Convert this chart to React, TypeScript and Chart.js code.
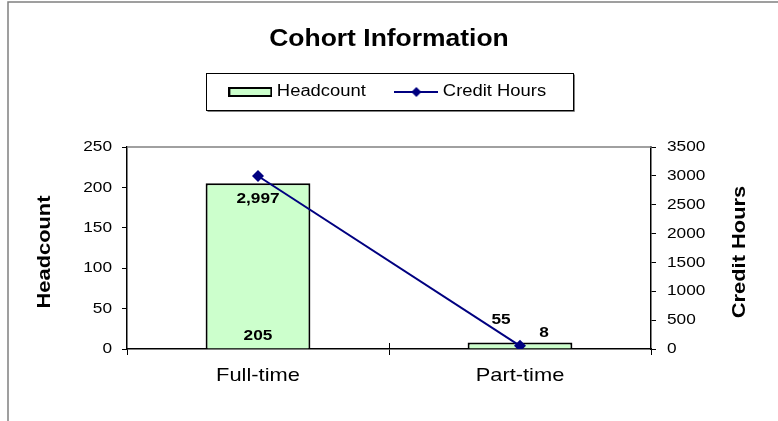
import React, { useEffect, useRef } from 'react';
import { Chart, registerables } from 'chart.js';

Chart.register(...registerables);

const categories = ['Full-time', 'Part-time'];
const headcount = [205, 8];
const creditHours = [2997, 55];
const headcountTicks = [0, 50, 100, 150, 200, 250];
const creditTicks = [0, 500, 1000, 1500, 2000, 2500, 3000, 3500];
const seriesNames = ['Headcount', 'Credit Hours'];
const chartTitle = 'Cohort Information';

const FONT = '"Liberation Sans", Arial, Helvetica, sans-serif';
const BAR_FILL = '#CCFFCC';
const LINE_COLOR = '#000080';
const TEXT_SX = 1.15; // horizontal text widening (reference text is wide)

function makeBarSwatch() {
  const c = document.createElement('canvas');
  c.width = 44;
  c.height = 10;
  const g = c.getContext('2d')!;
  g.fillStyle = BAR_FILL;
  g.fillRect(1, 1, 42, 8);
  g.strokeStyle = '#000';
  g.lineWidth = 2;
  g.strokeRect(1, 1, 42, 8);
  return c;
}

function makeLineSwatch() {
  const c = document.createElement('canvas');
  c.width = 44;
  c.height = 12;
  const g = c.getContext('2d')!;
  g.strokeStyle = LINE_COLOR;
  g.lineWidth = 2;
  g.beginPath();
  g.moveTo(0, 6);
  g.lineTo(44, 6);
  g.stroke();
  g.fillStyle = LINE_COLOR;
  g.beginPath();
  g.moveTo(22, 1);
  g.lineTo(27, 6);
  g.lineTo(22, 11);
  g.lineTo(17, 6);
  g.closePath();
  g.fill();
  return c;
}

const fmt = (v: number) => v.toLocaleString('en-US');

function widenText(ctx: any) {
  if (ctx.__widened) return;
  const origFill = ctx.fillText.bind(ctx);
  const origMeasure = ctx.measureText.bind(ctx);
  ctx.fillText = (text: string, x: number, y: number, maxWidth?: number) => {
    ctx.save();
    ctx.translate(x, y);
    ctx.scale(TEXT_SX, 1);
    if (maxWidth !== undefined && maxWidth !== null && isFinite(maxWidth)) {
      origFill(text, 0, 0, maxWidth / TEXT_SX);
    } else {
      origFill(text, 0, 0);
    }
    ctx.restore();
  };
  ctx.measureText = (text: string) => {
    const m = origMeasure(text);
    return {
      width: m.width * TEXT_SX,
      actualBoundingBoxAscent: m.actualBoundingBoxAscent,
      actualBoundingBoxDescent: m.actualBoundingBoxDescent,
      actualBoundingBoxLeft: m.actualBoundingBoxLeft * TEXT_SX,
      actualBoundingBoxRight: m.actualBoundingBoxRight * TEXT_SX,
      fontBoundingBoxAscent: m.fontBoundingBoxAscent,
      fontBoundingBoxDescent: m.fontBoundingBoxDescent,
    };
  };
  ctx.__widened = true;
}

export default function App() {
  const ref = useRef<HTMLCanvasElement>(null);

  useEffect(() => {
    const canvas = ref.current!;
    widenText(canvas.getContext('2d'));
    const barImg = makeBarSwatch();
    const lineImg = makeLineSwatch();

    const decorPlugin = {
      id: 'decor',
      afterInit(chart: any) {
        const lg = chart.legend;
        if (lg && !lg.__patched) {
          const orig = lg.fit.bind(lg);
          lg.fit = function () {
            orig();
            this.height += 37;
          };
          lg.__patched = true;
        }
      },
      afterDraw(chart: any) {
        const ctx = chart.ctx;
        const ca = chart.chartArea;
        ctx.save();
        // outer frame
        ctx.strokeStyle = '#808080';
        ctx.lineWidth = 1.5;
        ctx.beginPath();
        ctx.moveTo(8, 421);
        ctx.lineTo(8, 2);
        ctx.lineTo(778, 2);
        ctx.stroke();
        // plot top border
        ctx.strokeStyle = '#808080';
        ctx.lineWidth = 1.5;
        ctx.beginPath();
        ctx.moveTo(ca.left, ca.top);
        ctx.lineTo(ca.right, ca.top);
        ctx.stroke();
        // crossing tick mark between categories
        const xs = chart.scales.x;
        const mid = (xs.getPixelForValue(0) + xs.getPixelForValue(1)) / 2;
        ctx.strokeStyle = '#000';
        ctx.lineWidth = 1;
        ctx.beginPath();
        ctx.moveTo(Math.round(mid) + 0.5, ca.bottom - 6);
        ctx.lineTo(Math.round(mid) + 0.5, ca.bottom);
        ctx.stroke();
        // legend box
        const lg = chart.legend;
        if (lg && lg.legendHitBoxes && lg.legendHitBoxes.length) {
          const hb = lg.legendHitBoxes;
          const first = hb[0];
          const last = hb[hb.length - 1];
          const cy = first.top + first.height / 2;
          const x1 = Math.round(first.left - 26) + 0.5;
          const x2 = Math.round(last.left + last.width + 27) + 0.5;
          const y1 = Math.round(cy - 19) + 0.5;
          const y2 = Math.round(cy + 18) + 0.5;
          ctx.strokeStyle = '#000';
          ctx.lineWidth = 1;
          ctx.strokeRect(x1, y1, x2 - x1, y2 - y1);
          ctx.strokeStyle = '#808080';
          ctx.beginPath();
          ctx.moveTo(x1 + 1, y2 + 1);
          ctx.lineTo(x2 + 1, y2 + 1);
          ctx.lineTo(x2 + 1, y1 + 1);
          ctx.stroke();
        }
        // axis titles (both read bottom-to-top)
        const yL = chart.scales.y;
        const yR = chart.scales.y1;
        const cy = (ca.top + ca.bottom) / 2 + 4;
        ctx.fillStyle = '#000';
        ctx.font = `bold 19px ${FONT}`;
        ctx.textAlign = 'center';
        ctx.textBaseline = 'middle';
        ctx.save();
        ctx.translate(yL.left + 45, cy);
        ctx.rotate(-Math.PI / 2);
        ctx.fillText(seriesNames[0], 0, 0);
        ctx.restore();
        ctx.save();
        ctx.translate(yR.right - 38, cy);
        ctx.rotate(-Math.PI / 2);
        ctx.fillText(seriesNames[1], 0, 0);
        ctx.restore();
        ctx.restore();
      },
      afterDatasetsDraw(chart: any) {
        const ctx = chart.ctx;
        ctx.save();
        ctx.fillStyle = '#000';
        ctx.font = `bold 15px ${FONT}`;
        ctx.textAlign = 'center';
        ctx.textBaseline = 'middle';
        const bars = chart.getDatasetMeta(0).data;
        const pts = chart.getDatasetMeta(1).data;
        const b0 = bars[0];
        ctx.fillText(fmt(headcount[0]), b0.x, b0.base - 13);
        const b1 = bars[1];
        ctx.fillText(fmt(headcount[1]), b1.x + 24, b1.y - 10);
        const p0 = pts[0];
        ctx.fillText(fmt(creditHours[0]), p0.x, p0.y + 23);
        const p1 = pts[1];
        ctx.fillText(fmt(creditHours[1]), p1.x - 19, p1.y - 26);
        ctx.restore();
      },
    };

    const chart = new Chart(canvas, {
      type: 'bar',
      data: {
        labels: categories,
        datasets: [
          {
            type: 'bar',
            label: seriesNames[0],
            data: headcount,
            yAxisID: 'y',
            backgroundColor: BAR_FILL,
            borderColor: '#000',
            borderWidth: 2,
            barPercentage: 0.4,
            categoryPercentage: 1,
            order: 1,
          },
          {
            type: 'line',
            label: seriesNames[1],
            data: creditHours,
            yAxisID: 'y1',
            borderColor: LINE_COLOR,
            backgroundColor: LINE_COLOR,
            borderWidth: 2,
            pointStyle: 'rectRot',
            pointRadius: 6,
            pointBackgroundColor: LINE_COLOR,
            pointBorderColor: LINE_COLOR,
            pointBorderWidth: 0,
            tension: 0,
            order: 0,
          },
        ],
      } as any,
      options: {
        responsive: false,
        animation: false,
        devicePixelRatio: 1,
        events: [],
        layout: { padding: 0 },
        font: { family: FONT },
        plugins: {
          tooltip: { enabled: false },
          title: {
            display: true,
            text: chartTitle,
            color: '#000',
            font: { family: FONT, size: 23, weight: 'bold', lineHeight: 1 },
            padding: { top: 28.5, bottom: 0.5 },
          },
          legend: {
            display: true,
            position: 'top',
            labels: {
              usePointStyle: true,
              pointStyleWidth: 37,
              color: '#000',
              padding: 32,
              font: { family: FONT, size: 16 },
              generateLabels: () => [
                {
                  text: seriesNames[0],
                  pointStyle: barImg,
                  fillStyle: BAR_FILL,
                  strokeStyle: '#000',
                  lineWidth: 0,
                  hidden: false,
                  datasetIndex: 0,
                  fontColor: '#000',
                },
                {
                  text: seriesNames[1],
                  pointStyle: lineImg,
                  fillStyle: LINE_COLOR,
                  strokeStyle: LINE_COLOR,
                  lineWidth: 0,
                  hidden: false,
                  datasetIndex: 1,
                  fontColor: '#000',
                },
              ],
            },
          },
        },
        scales: {
          x: {
            type: 'category',
            offset: true,
            grid: {
              display: true,
              offset: true,
              drawOnChartArea: false,
              drawTicks: true,
              tickLength: 6,
              color: '#000',
            },
            border: { display: true, color: '#000', width: 1.5 },
            ticks: {
              color: '#000',
              padding: 9,
              font: { family: FONT, size: 19 },
            },
            afterFit: (s: any) => {
              s.height = 72;
            },
          },
          y: {
            type: 'linear',
            position: 'left',
            min: headcountTicks[0],
            max: headcountTicks[headcountTicks.length - 1],
            afterBuildTicks: (s: any) => {
              s.ticks = headcountTicks.map((v) => ({ value: v }));
            },
            grid: {
              display: true,
              drawOnChartArea: false,
              drawTicks: true,
              tickLength: 5,
              color: '#000',
            },
            border: { display: true, color: '#000', width: 1.5 },
            ticks: {
              color: '#000',
              padding: 10,
              font: { family: FONT, size: 15 },
            },
            afterFit: (s: any) => {
              s.width = 127;
            },
          },
          y1: {
            type: 'linear',
            position: 'right',
            min: creditTicks[0],
            max: creditTicks[creditTicks.length - 1],
            afterBuildTicks: (s: any) => {
              s.ticks = creditTicks.map((v) => ({ value: v }));
            },
            grid: {
              display: true,
              drawOnChartArea: false,
              drawTicks: true,
              tickLength: 5,
              color: '#000',
            },
            border: { display: true, color: '#000', width: 1.5 },
            ticks: {
              color: '#000',
              padding: 11,
              font: { family: FONT, size: 15 },
              callback: (v: any) => String(v),
            },
            afterFit: (s: any) => {
              s.width = 127;
            },
          },
        },
      } as any,
      plugins: [decorPlugin],
    });

    return () => chart.destroy();
  }, []);

  return (
    <div
      style={{
        position: 'absolute',
        left: 0,
        top: 0,
        width: 778,
        height: 421,
        background: '#fff',
      }}
    >
      <canvas ref={ref} width={778} height={421} style={{ display: 'block' }} />
    </div>
  );
}
